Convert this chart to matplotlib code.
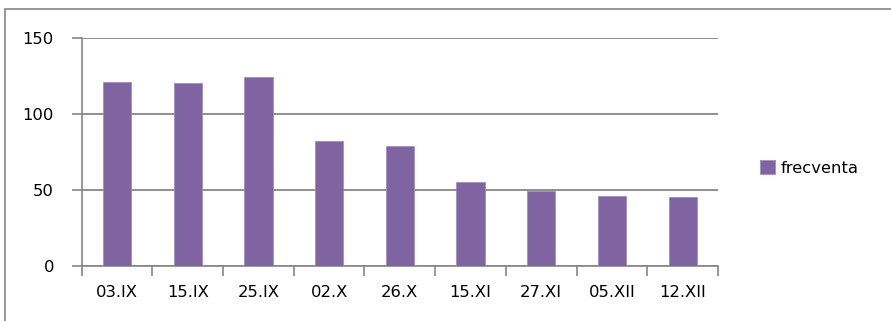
import matplotlib
matplotlib.use("Agg")
import matplotlib.pyplot as plt
from matplotlib.patches import Rectangle
import numpy as np

categories = ["03.IX", "15.IX", "25.IX", "02.X", "26.X", "15.XI", "27.XI", "05.XII", "12.XII"]
frecventa = [121, 120, 124, 82, 79, 55, 49, 46, 45]
series_name = "frecventa"
y_ticks = [0, 50, 100, 150]

W, H = 891, 321
fig = plt.figure(figsize=(W / 100, H / 100), dpi=100)
plt.rcParams["font.family"] = ["DejaVu Sans"]
fs = 11.8

grey = "#868686"
purple = "#8064A2"

# outer chart-area frame (runs off the right and bottom edges)
fig.patches.append(Rectangle((5 / W, -0.1), 1.2, 1 - 9 / H + 0.1, transform=fig.transFigure,
                             fill=False, edgecolor=grey, linewidth=1.2))

left, right = 81.7, 718
top, bottom = 37.7, 265.7
ax = fig.add_axes([left / W, 1 - bottom / H, (right - left) / W, (bottom - top) / H])

x = np.arange(len(categories))
ax.bar(x, frecventa, width=0.4, color=purple, edgecolor="#A08CC0", linewidth=0.6,
       label=series_name, zorder=3)

ax.set_xlim(-0.5, len(categories) - 0.5)
ax.set_ylim(0, 150)
ax.set_yticks(y_ticks)
ax.set_yticklabels([str(v) for v in y_ticks])
ax.yaxis.grid(True, color=grey, linewidth=1.3, zorder=0)

# category labels centered, tick marks on category boundaries
ax.set_xticks(x)
ax.set_xticklabels(categories)
ax.set_xticks(np.arange(-0.5, len(categories)), minor=True)
ax.tick_params(axis="x", which="major", length=0, pad=14, labelsize=fs, colors="black")
ax.tick_params(axis="x", which="minor", length=7, width=1.2, color=grey, direction="out")
ax.tick_params(axis="y", length=7, width=1.2, color=grey, pad=13, labelsize=fs)

for s in ["top", "right"]:
    ax.spines[s].set_visible(False)
for s in ["left", "bottom"]:
    ax.spines[s].set_color(grey)
    ax.spines[s].set_linewidth(1.2)

fig.legend(loc="center left", bbox_to_anchor=(760 / W, 1 - 168 / H), frameon=False,
           fontsize=fs, handlelength=0.9, handleheight=0.9, handletextpad=0.35,
           borderpad=0, borderaxespad=0)

fig.savefig("out.png", dpi=100)
